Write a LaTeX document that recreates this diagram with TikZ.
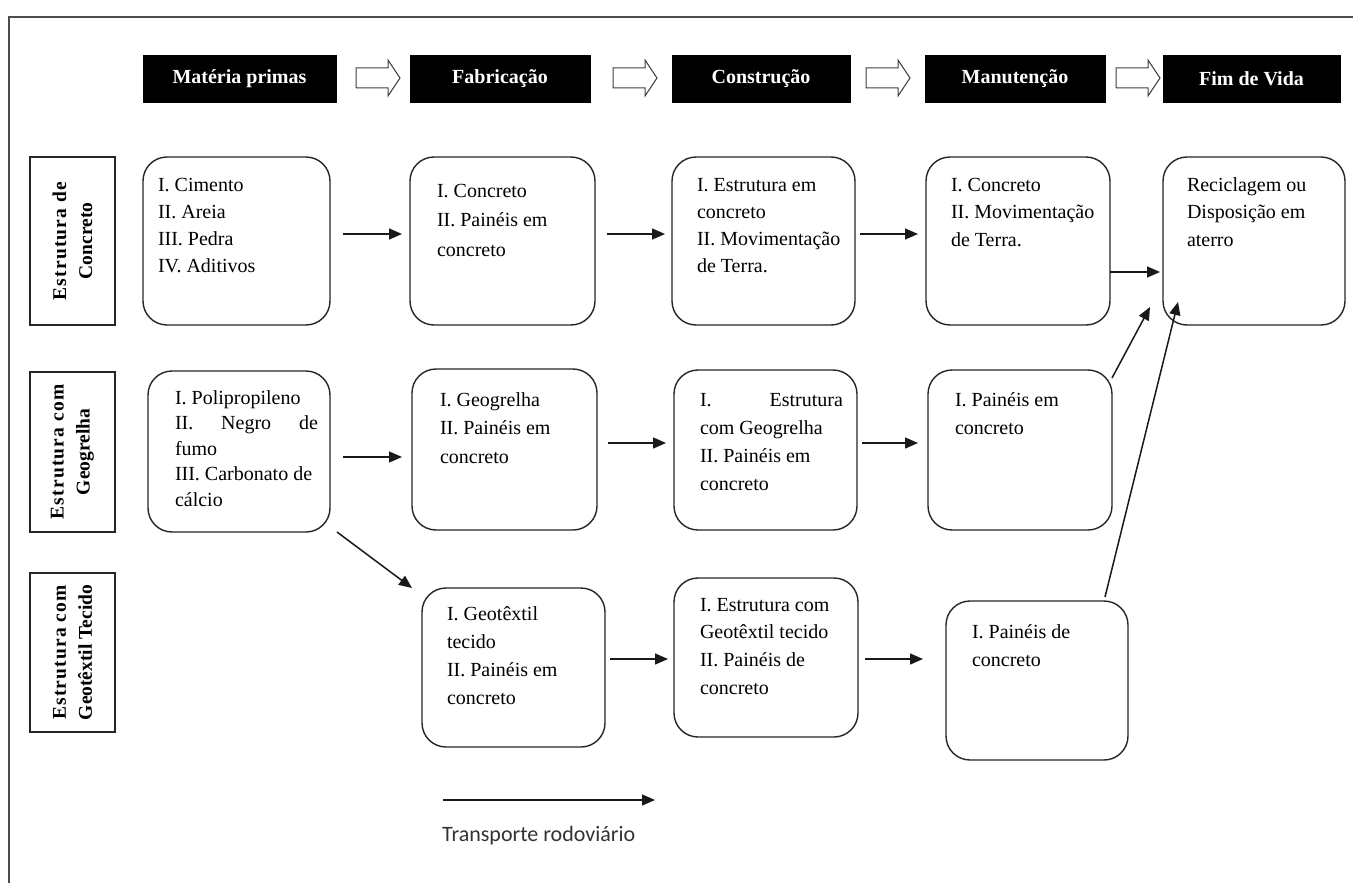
\documentclass[tikz,border=0pt]{standalone}
\usepackage{fontspec}
\setmainfont{Liberation Serif}
\newfontfamily\legendfont{Carlito}
\newfontfamily\spacedfont[LetterSpace=6]{Liberation Serif}
\usetikzlibrary{arrows.meta}
\newcommand\rbx[5]{%
  \pgfmathsetmacro\rbxcx{(#2+#4)/2}\pgfmathsetmacro\rbxcy{(#3+#5)/2}%
  \pgfmathsetmacro\rbxw{#4-#2}\pgfmathsetmacro\rbxh{#5-#3}%
  \node[rbox, minimum width=\rbxw pt, minimum height=\rbxh pt] (#1) at (\rbxcx,\rbxcy) {};}
\newcommand\hdrbx[4]{%
  \pgfmathsetmacro\rbxcx{(#2+#3)/2}\pgfmathsetmacro\rbxw{#3-#2}%
  \node[hdr, minimum width=\rbxw pt] (#1) at (\rbxcx,78.5) {#4};}
\newcommand\btxt[5]{\node[txt] (#1) at (#2,#3) {\parbox[t]{150pt}{\raggedright\fontsize{20}{#4}\selectfont #5}};}
\newcommand\hollow[2]{%
  \draw[hollowarrow] (#2,68) -- (#2+32,68) -- (#2+32,60) -- (#2+44,78) -- (#2+32,96) -- (#2+32,88) -- (#2,88) -- cycle;}
\newcommand\spacedline[1]{{\spacedfont\bfseries #1}}
\begin{document}
\begin{tikzpicture}[x=1pt,y=-1pt,
  hdr/.style={fill=black, draw=black, inner sep=0pt, outer sep=0pt, minimum height=47pt,
    text=white, font=\bfseries\fontsize{20}{24}\selectfont},
  rbox/.style={draw=black!85, line width=1.4pt, rounded corners=24pt, inner sep=0pt, outer sep=0pt},
  lbl/.style={draw=black!85, line width=1.4pt, inner sep=0pt, outer sep=0pt, rotate=90,
    align=center, font=\bfseries\fontsize{19.5}{26}\selectfont},
  arr/.style={-{Triangle[length=13pt,width=11pt]}, line width=1.5pt, black!90},
  txt/.style={anchor=base west, inner sep=0pt, outer sep=0pt},
  hollowarrow/.style={draw=black!75, fill=white, line width=1pt},
  frame/.style={draw=black!70, line width=1.5pt}
]
\fill[white] (0,0) rectangle (1353,883);
\useasboundingbox (0,0) rectangle (1353,883);
\draw[frame] (9,883) -- (9,17) -- (1353,17);

% headers
\hdrbx{h1}{143}{336}{Matéria primas}
\hdrbx{h2}{410}{590}{Fabricação}
\hdrbx{h3}{672}{850}{Construção}
\hdrbx{h4}{925}{1105}{Manutenção}
\hdrbx{h5}{1163}{1340}{Fim de Vida}
\hollow{a1}{356}
\hollow{a2}{613}
\hollow{a3}{866}
\hollow{a4}{1116}

% row labels
\node[lbl, minimum width=168pt, minimum height=85pt] (r1) at (72.5,241) {\spacedline{Estrutura de}\\Concreto};
\node[lbl, minimum width=160pt, minimum height=85pt] (r2) at (72.5,452) {\spacedline{Estrutura com}\\Geogrelha};
\node[lbl, minimum width=159pt, minimum height=85pt] (r3) at (72.5,652.5) {\spacedline{Estrutura com}\\Geotêxtil Tecido};

% row 1
\rbx{b11}{143}{157}{330}{325}
\rbx{b12}{410}{157}{595}{325}
\rbx{b13}{672}{157}{855}{325}
\rbx{b14}{926}{157}{1110}{325}
\rbx{b15}{1163}{157}{1345}{325}
\btxt{t11}{158}{191}{27.3}{I. Cimento\\II. Areia\\III. Pedra\\IV. Aditivos}
\btxt{t12}{437}{197}{29.5}{I. Concreto\\II. Painéis em\\concreto}
\btxt{t13}{697}{191}{27.3}{I. Estrutura em\\concreto\\II. Movimentação\\de Terra.}
\btxt{t14}{951}{191}{27.5}{I. Concreto\\II. Movimentação\\de Terra.}
\btxt{t15}{1187}{191}{27.5}{Reciclagem ou\\Disposição em\\aterro}

% row 2
\rbx{b21}{148}{371}{330}{532}
\rbx{b22}{412}{369}{597}{530}
\rbx{b23}{674}{370}{857}{530}
\rbx{b24}{928}{370}{1112}{530}
\btxt{t21}{175}{404}{25.5}{I. Polipropileno\\\makebox[143pt][s]{II. Negro de}\\fumo\\III. Carbonato de\\cálcio}
\btxt{t22}{440}{406}{28.5}{I. Geogrelha\\II. Painéis em\\concreto}
\btxt{t23}{700}{406}{28.3}{\makebox[143pt][s]{I. Estrutura}\\com Geogrelha\\II. Painéis em\\concreto}
\btxt{t24}{955}{406}{28}{I. Painéis em\\concreto}

% row 3
\rbx{b32}{422}{588}{605}{747}
\rbx{b33}{674}{578}{858}{737}
\rbx{b34}{946}{601}{1128}{760}
\btxt{t32}{447}{620}{28.3}{I. Geotêxtil\\tecido\\II. Painéis em\\concreto}
\btxt{t33}{700}{611}{27.7}{I. Estrutura com\\Geotêxtil tecido\\II. Painéis de\\concreto}
\btxt{t34}{972}{638}{28}{I. Painéis de\\concreto}

% connectors row 1
\draw[arr, shorten <=13pt, shorten >=8pt] ([yshift=7pt]b11.east) -- ([yshift=7pt]b12.west);
\draw[arr, shorten <=12pt, shorten >=7pt] ([yshift=7pt]b12.east) -- ([yshift=7pt]b13.west);
\draw[arr, shorten <=5pt, shorten >=8pt] ([yshift=7pt]b13.east) -- ([yshift=7pt]b14.west);
\draw[arr, shorten >=3pt] ([yshift=-31pt]b14.east) -- ([yshift=-31pt]b15.west);
% connectors row 2
\draw[arr, shorten <=13pt, shorten >=10pt] ([yshift=-5.5pt]b21.east) -- ([yshift=-5.5pt]b21.east -| b22.west);
\draw[arr, shorten <=11pt, shorten >=8pt] ([yshift=6.5pt]b22.east) -- ([yshift=6.5pt]b22.east -| b23.west);
\draw[arr, shorten <=5pt, shorten >=10pt] ([yshift=7pt]b23.east) -- ([yshift=7pt]b23.east -| b24.west);
% connectors row 3
\draw[arr, shorten <=5pt, shorten >=6pt] ([yshift=8.5pt]b32.east) -- ([yshift=8.5pt]b32.east -| b33.west);
\draw[arr, shorten <=7pt, shorten >=23pt] ([yshift=-1.5pt]b33.east) -- ([yshift=-1.5pt]b33.east -| b34.west);
% diagonals
\draw[arr] ([xshift=7pt]b21.south east) -- ([xshift=-10pt]b32.north west);
\draw[arr] ([yshift=-8pt]b24.north east) -- ([xshift=-13pt,yshift=18pt]b15.south west);
\draw[arr] ([xshift=-23pt,yshift=4pt]b34.north east) -- ([xshift=15pt,yshift=23pt]b15.south west);

% legend
\coordinate (lg1) at (443,800);
\coordinate (lg2) at (655,800);
\draw[arr] (lg1) -- (lg2);
\node[anchor=west, inner sep=0pt, text=black!80, font=\legendfont\fontsize{22}{26}\selectfont] (lgt) at (442,836) {Transporte rodoviário};
\end{tikzpicture}
\end{document}
